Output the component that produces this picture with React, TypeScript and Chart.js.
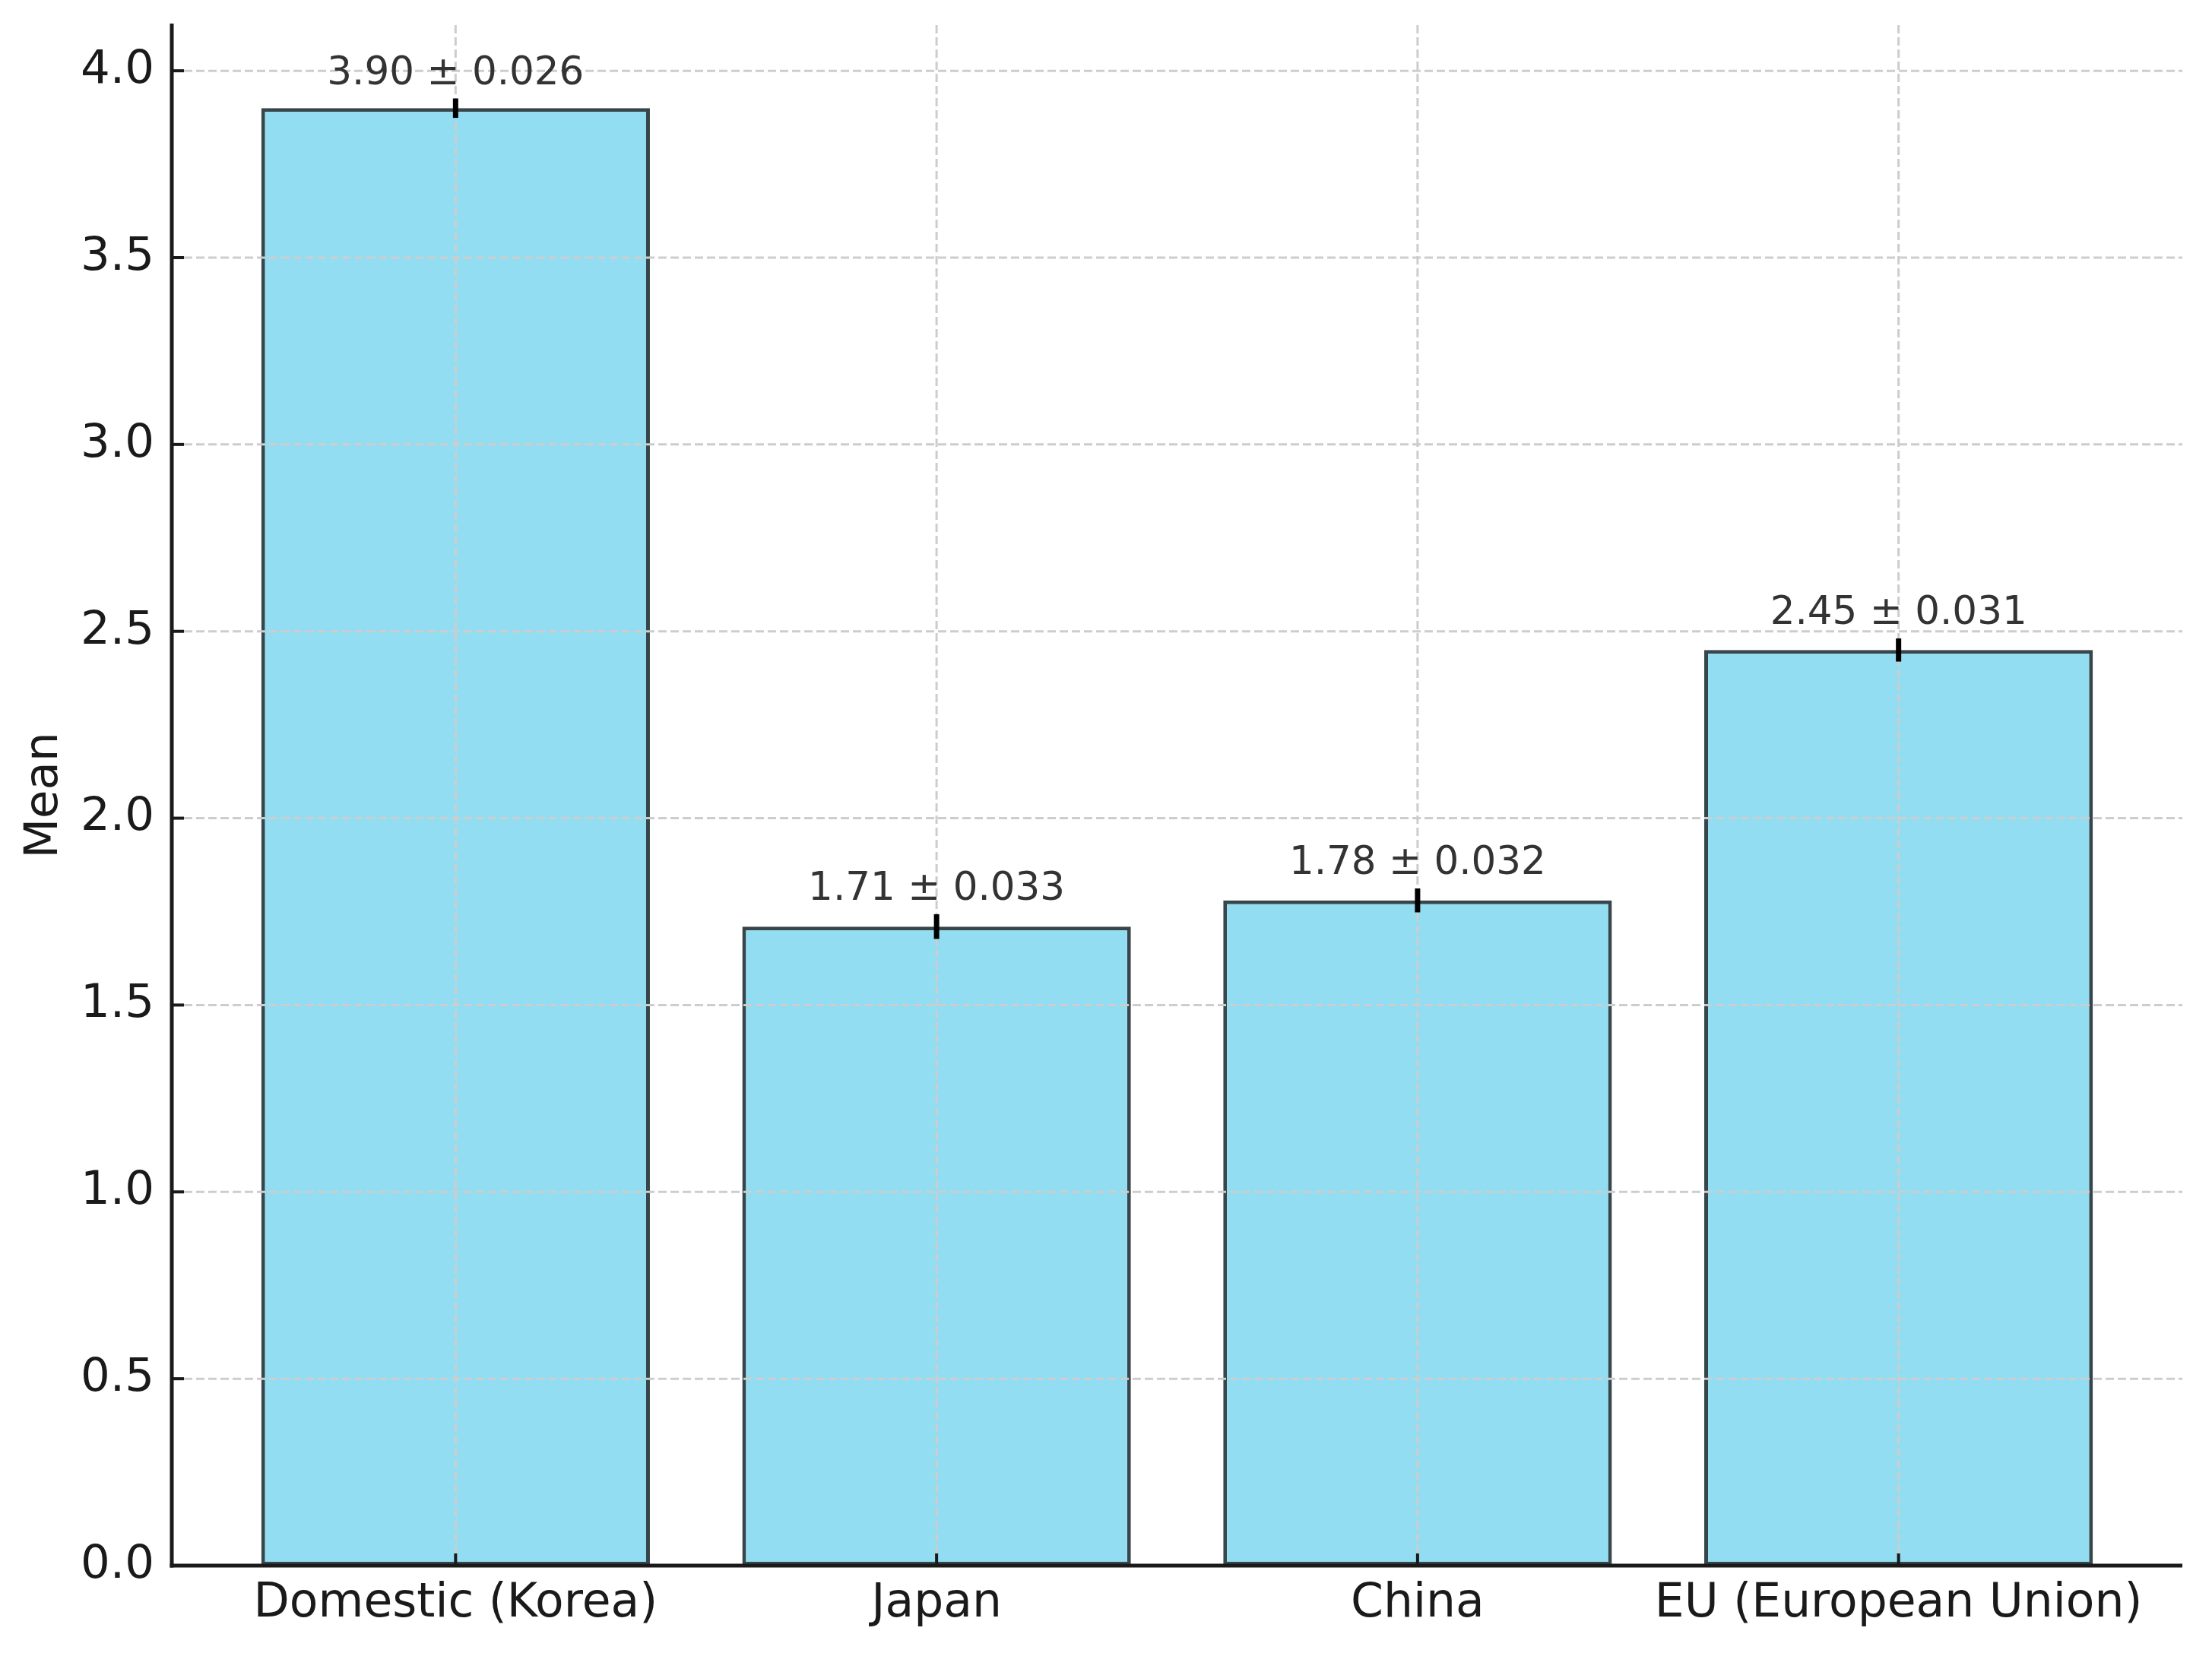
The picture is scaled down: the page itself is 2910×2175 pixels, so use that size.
import React, { useEffect, useRef } from 'react';
import { Chart, registerables } from 'chart.js';

Chart.register(...registerables);

const categories = ['Domestic (Korea)', 'Japan', 'China', 'EU (European Union)'];
const means = [3.90, 1.71, 1.78, 2.45];
const errors = [0.026, 0.033, 0.032, 0.031];
const yTicks = [0, 0.5, 1.0, 1.5, 2.0, 2.5, 3.0, 3.5, 4.0];
const yMax = 4.1223;
const xMin = -0.59;
const xMax = 3.59;

const FONT = '"DejaVu Sans", "Liberation Sans", sans-serif';

const overlay = {
  id: 'overlay',
  afterDatasetsDraw(chart: any) {
    const { ctx, chartArea: a, scales } = chart;
    const x = scales.x;
    const y = scales.y;
    const line = (x1: number, y1: number, x2: number, y2: number) => {
      ctx.beginPath();
      ctx.moveTo(x1, y1);
      ctx.lineTo(x2, y2);
      ctx.stroke();
    };
    ctx.save();
    // dashed grid over bars
    ctx.strokeStyle = '#cdcdcd';
    ctx.lineWidth = 3;
    ctx.setLineDash([11, 5]);
    yTicks.forEach((t) => {
      const py = y.getPixelForValue(t);
      line(a.left, py, a.right, py);
    });
    categories.forEach((_, i) => {
      const px = x.getPixelForValue(i);
      line(px, a.top, px, a.bottom);
    });
    ctx.setLineDash([]);
    // error bars
    ctx.strokeStyle = '#000000';
    ctx.lineWidth = 7;
    means.forEach((m, i) => {
      const px = x.getPixelForValue(i);
      line(px, y.getPixelForValue(m - errors[i]), px, y.getPixelForValue(m + errors[i]));
    });
    // spines
    ctx.strokeStyle = '#1a1a1a';
    ctx.lineWidth = 5;
    line(a.left, a.top - 2, a.left, a.bottom + 2.5);
    line(a.left - 2.5, a.bottom, a.right, a.bottom);
    // inward ticks
    ctx.lineWidth = 4;
    yTicks.forEach((t) => {
      const py = y.getPixelForValue(t);
      line(a.left, py, a.left + 16, py);
    });
    categories.forEach((_, i) => {
      const px = x.getPixelForValue(i);
      line(px, a.bottom, px, a.bottom - 16);
    });
    // value labels
    ctx.fillStyle = '#333333';
    ctx.font = `51.5px ${FONT}`;
    ctx.textAlign = 'center';
    ctx.textBaseline = 'alphabetic';
    means.forEach((m, i) => {
      const px = x.getPixelForValue(i);
      const py = y.getPixelForValue(m + errors[i]) - 19;
      ctx.fillText(`${m.toFixed(2)} ± ${errors[i].toFixed(3)}`, px, py);
    });
    ctx.restore();
  },
};

export default function App() {
  const ref = useRef<HTMLCanvasElement | null>(null);
  useEffect(() => {
    if (!ref.current) return;
    Chart.defaults.font.family = FONT;
    const chart = new Chart(ref.current, {
      type: 'bar',
      data: {
        datasets: [
          {
            data: means.map((m, i) => ({ x: i, y: m })),
            backgroundColor: '#92DDF1',
            borderColor: '#37464b',
            borderWidth: 5,
            borderSkipped: false,
            barPercentage: 0.808,
            categoryPercentage: 1,
          },
        ],
      },
      options: {
        responsive: false,
        maintainAspectRatio: false,
        animation: false,
        layout: { padding: { top: 33, right: 39, left: 0, bottom: 0 } },
        plugins: {
          legend: { display: false },
          tooltip: { enabled: false },
        },
        scales: {
          x: {
            type: 'linear',
            offset: false,
            min: xMin,
            max: xMax,
            grid: { display: false, drawTicks: false, offset: false },
            border: { display: false },
            afterBuildTicks: (s: any) => {
              s.ticks = categories.map((_, i) => ({ value: i }));
            },
            afterFit: (s: any) => {
              s.height = 115;
              s.paddingLeft = 0;
              s.paddingRight = 0;
            },
            ticks: {
              autoSkip: false,
              maxRotation: 0,
              minRotation: 0,
              padding: 14,
              color: '#1a1a1a',
              font: { family: FONT, size: 61.5 },
              callback: (v: any) => categories[Math.round(Number(v))] ?? '',
            },
          },
          y: {
            type: 'linear',
            min: 0,
            max: yMax,
            grid: { display: false, drawTicks: false },
            border: { display: false },
            afterBuildTicks: (s: any) => {
              s.ticks = yTicks.map((v) => ({ value: v }));
            },
            afterFit: (s: any) => {
              s.width = 226;
              s.paddingTop = 0;
              s.paddingBottom = 0;
            },
            ticks: {
              padding: 23,
              color: '#1a1a1a',
              font: { family: FONT, size: 61 },
              callback: (v: any) => Number(v).toFixed(1),
            },
            title: {
              display: true,
              text: 'Mean',
              color: '#1a1a1a',
              font: { family: FONT, size: 61 },
              padding: { top: 23, bottom: 0 },
            },
          },
        },
      },
      plugins: [overlay],
    });
    return () => chart.destroy();
  }, []);
  return (
    <div style={{ position: 'fixed', left: 0, top: 0, width: 2910, height: 2175, background: '#ffffff' }}>
      <canvas ref={ref} width={2910} height={2175} style={{ width: 2910, height: 2175, display: 'block' }} />
    </div>
  );
}
